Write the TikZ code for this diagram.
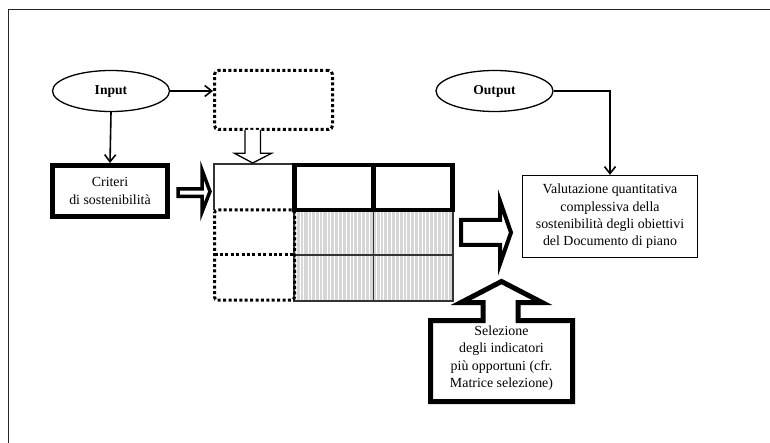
\documentclass[tikz,border=0pt]{standalone}
\usepackage{fontspec}
\setmainfont{Liberation Serif}
\usetikzlibrary{shapes.geometric,arrows.meta,positioning}
\tikzset{
  testo/.style={font=\fontsize{13.9}{17.4}\selectfont, align=center},
  ovale/.style={draw, ellipse, line width=1.3pt, minimum width=117pt, minimum height=41pt,
    inner sep=0pt, font=\bfseries\fontsize{13.6}{16}\selectfont},
  cornice/.style={draw, line width=5pt, inner sep=0pt, testo},
  puntini/.style={draw, line width=3pt, dash pattern=on 3pt off 2.4pt},
  freccina/.style={line width=1.6pt, -{Straight Barb[length=7pt,width=11pt,line width=1.6pt]}},
  cava/.style={draw, fill=white, line join=miter},
}
\begin{document}
\begin{tikzpicture}[x=1pt, y=-1pt]
\useasboundingbox (0,0) rectangle (770,443);
% cornice esterna
\draw[line width=1.3pt, black!85] (8.5,443) -- (8.5,9.3) -- (770,9.3);
% nodi
\node[ovale] (input) at (111,91) {Input};
\node[ovale] (output) at (494.5,91) {Output};
\node[cornice, minimum width=115pt, minimum height=51pt] (criteri) at (110,191) {Criteri\\di sostenibilità};
\node[puntini, rounded corners=4pt, minimum width=118pt, minimum height=59pt] (vuoto) at (273.5,100) {};
\node[draw, line width=1.3pt, testo, minimum width=175pt, minimum height=82pt] (valut) at (610,216.5)
  {Valutazione quantitativa\\complessiva della\\sostenibilità degli obiettivi\\del Documento di piano};
% connettori
\draw[freccina] (input.south) -- (criteri.north);
\draw[freccina] (input.east) -- (input.east -| vuoto.west);
\draw[freccina] (output.east) -| (valut.north);
% matrice
\fill[gray!32] (294,210) rectangle (453,301);
\foreach \x in {296.5,300,303.5,308,311,315.5,319,322.5,327,330.5,334,338.5,342,346,350,353.5,357.5,361,365,369,
                376,380,383.5,387.5,391.5,395,399,403,406.5,410.5,414,418,422,425.5,429.5,433,437,441,444.5,448.5}
  \draw[white, line width=0.9pt] (\x,210) -- (\x,301);
\draw[line width=1.2pt, black!80] (294,210) rectangle (453,301) (294,255) -- (453,255) (373.5,210) -- (373.5,301);
\draw[line width=1.2pt, black!80] (214,210) -- (214,164) -- (294,164);
\draw[line width=4.5pt] (294.5,165) rectangle (452.5,210) (373.5,165) -- (373.5,210);
\draw[puntini, rounded corners=3pt] (294.5,210) -- (214.5,210) -- (214.5,300) -- (294.5,300) -- cycle;
\draw[puntini] (214.5,255) -- (294.5,255);
% frecce cave
\draw[cava, line width=1.3pt] (245,130) -- (245,153.3) -- (234.5,153.3) -- (252.7,163) -- (271.5,153.3)
  -- (260.5,153.3) -- (260.5,130);
\draw[cava, line width=3.5pt, miter limit=6] (178,189) -- (202,189) -- (202,170) -- (210,191.5) -- (202,212)
  -- (202,196.5) -- (178,196.5) -- cycle;
\draw[cava, line width=4pt, miter limit=6] (461,220) -- (500,220) -- (500,201) -- (511,232.5) -- (500,264)
  -- (500,245) -- (461,245) -- cycle;
\draw[cava, line width=5pt, miter limit=6] (430.5,401.5) -- (430.5,320.5) -- (483,320.5) -- (483,302.5)
  -- (461,302.5) -- (501.5,281.5) -- (542,302.5) -- (518,302.5) -- (518,320.5) -- (572.5,320.5)
  -- (572.5,401.5) -- cycle;
\node[testo] (selez) at (501.5,358) {Selezione\\degli indicatori\\più opportuni (cfr.\\Matrice selezione)};
\end{tikzpicture}
\end{document}
